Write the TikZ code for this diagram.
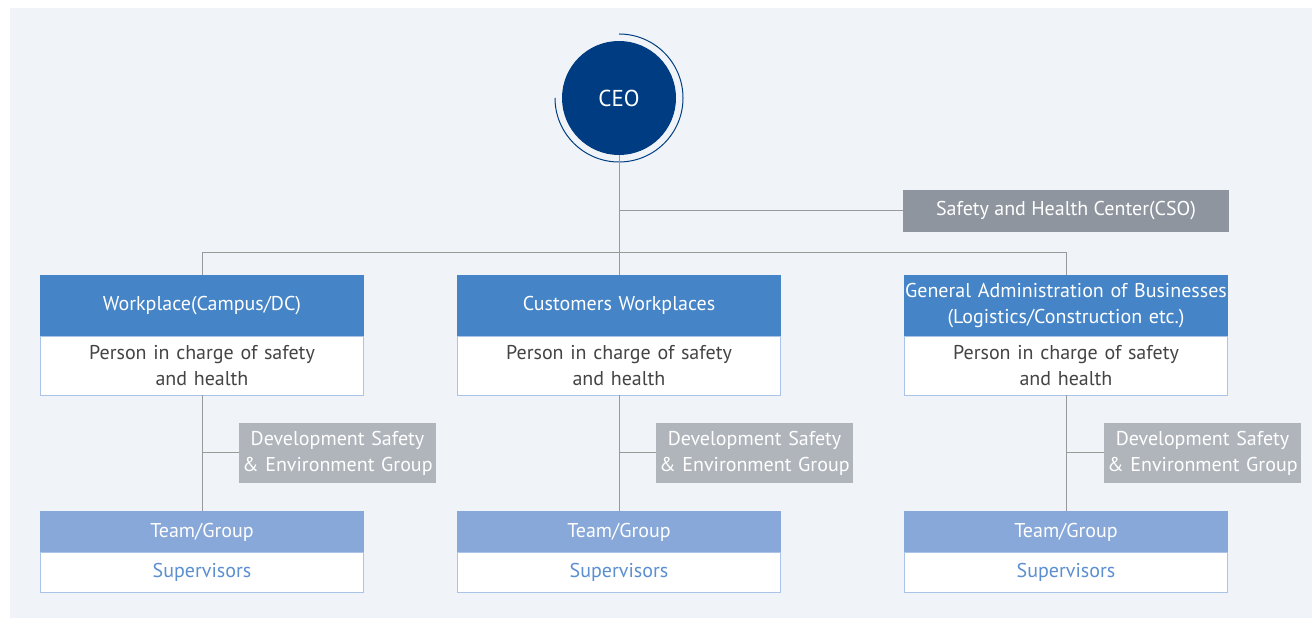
\documentclass[tikz,border=0pt]{standalone}
\usepackage{fontspec}
\setmainfont{PT Sans}
\usetikzlibrary{positioning}
\definecolor{PanelGrey}{HTML}{F0F4F8}
\definecolor{CeoBlue}{HTML}{003C82}
\definecolor{HeadBlue}{HTML}{4584C6}
\definecolor{TeamBlue}{HTML}{87A8D8}
\definecolor{EdgeBlue}{HTML}{A9C4E6}
\definecolor{SupBlue}{HTML}{5B8FD0}
\definecolor{CsoGrey}{HTML}{8E959E}
\definecolor{DevGrey}{HTML}{B0B5BC}
\definecolor{LineGrey}{HTML}{999999}
\definecolor{TextGrey}{HTML}{444444}

\begin{document}
\begin{tikzpicture}[x=1pt, y=1pt, font=\fontsize{20}{26}\selectfont]
    \tikzset{
        ceocircle/.style={circle, fill=CeoBlue, text=white, minimum size=114pt,
            inner sep=0pt, outer sep=0pt, font=\fontsize{23}{26}\selectfont},
        headbox/.style={rectangle, fill=HeadBlue, text=white, minimum width=324pt,
            minimum height=61pt, text width=324pt, align=center, inner sep=0pt, outer sep=0pt},
        personbox/.style={rectangle, draw=EdgeBlue, line width=1pt, fill=white, text=TextGrey,
            minimum width=323pt, minimum height=59pt, text width=320pt, align=center,
            inner sep=0pt, outer sep=0pt},
        teambox/.style={rectangle, fill=TeamBlue, text=white, minimum width=324pt,
            minimum height=42pt, inner sep=0pt, outer sep=0pt},
        supbox/.style={rectangle, draw=EdgeBlue, line width=1pt, fill=white, text=SupBlue,
            minimum width=323pt, minimum height=40pt, inner sep=0pt, outer sep=0pt},
        csobox/.style={rectangle, fill=CsoGrey, text=white, minimum width=326pt,
            minimum height=42pt, inner sep=0pt, outer sep=0pt},
        devbox/.style={rectangle, fill=DevGrey, text=white, minimum width=197pt,
            minimum height=60pt, text width=197pt, align=center, inner sep=0pt, outer sep=0pt},
        orgline/.style={draw=LineGrey, line width=1pt}
    }
    % background panel
    \fill[white] (0,0) rectangle (1312,618);
    \fill[PanelGrey] (10,0) rectangle (1312,610);
    % top level
    \node[ceocircle] (ceo) at (619,520) {CEO};
    \draw[CeoBlue, line width=1pt] (619,584) arc (90:-180:64);
    \node[csobox] (cso) at (1066,407) {Safety and Health Center(CSO)};
    \coordinate (bus) at (619,365);
    % columns
    \node[headbox] (work) at (202,312.5) {Workplace(Campus/DC)};
    \node[headbox] (cust) at (619,312.5) {Customers Workplaces};
    \node[headbox] (gab) at (1066,312.5) {General Administration of Businesses\\(Logistics/Construction etc.)};
    \node[personbox] (workp) at (202,252) {Person in charge of safety\\and health};
    \node[personbox] (custp) at (619,252) {Person in charge of safety\\and health};
    \node[personbox] (gabp) at (1066,252) {Person in charge of safety\\and health};
    \node[devbox] (workdev) at (337.5,165) {Development Safety\\\& Environment Group};
    \node[devbox] (custdev) at (754.5,165) {Development Safety\\\& Environment Group};
    \node[devbox] (gabdev) at (1202.5,165) {Development Safety\\\& Environment Group};
    \node[teambox] (workteam) at (202,86) {Team/Group};
    \node[teambox] (custteam) at (619,86) {Team/Group};
    \node[teambox] (gabteam) at (1066,86) {Team/Group};
    \node[supbox] (worksup) at (202,45.5) {Supervisors};
    \node[supbox] (custsup) at (619,45.5) {Supervisors};
    \node[supbox] (gabsup) at (1066,45.5) {Supervisors};
    % connectors
    \draw[orgline] (ceo.south) -- (cust.north);
    \draw[orgline] (cso.west) -- (cso.west -| ceo.south);
    \draw[orgline] (work.north) -- (work.north |- bus) -- (gab.north |- bus) -- (gab.north);
    \draw[orgline] (workp.south) -- (workteam.north);
    \draw[orgline] (custp.south) -- (custteam.north);
    \draw[orgline] (gabp.south) -- (gabteam.north);
    \draw[orgline] (workdev.west) -- (workdev.west -| workp.south);
    \draw[orgline] (custdev.west) -- (custdev.west -| custp.south);
    \draw[orgline] (gabdev.west) -- (gabdev.west -| gabp.south);
\end{tikzpicture}
\end{document}
